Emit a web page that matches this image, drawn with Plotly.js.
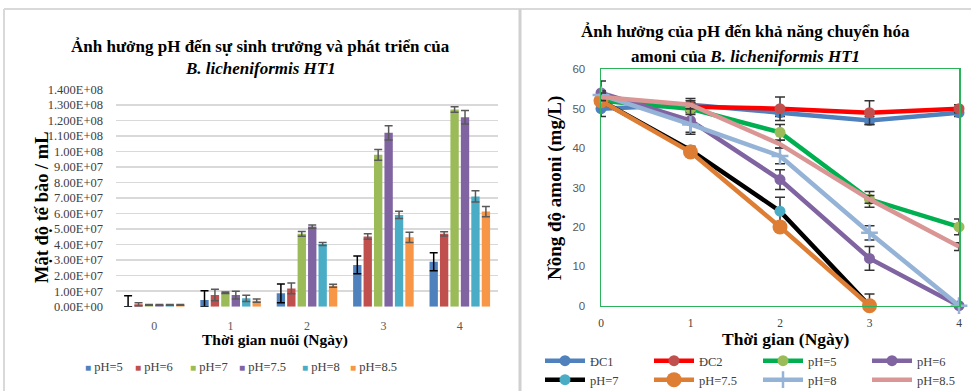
<!DOCTYPE html>
<html>
<head>
<meta charset="utf-8">
<script src="https://cdn.plot.ly/plotly-3.0.1.min.js"></script>
<style>html,body{margin:0;padding:0;background:#fff;}#chart{width:971px;height:391px;}</style>
</head>
<body>
<div id="chart"></div>
<script>
// ---------- Left chart data (cell density) ----------
const days = ['0', '1', '2', '3', '4'];
const barNames = ['pH=5', 'pH=6', 'pH=7', 'pH=7.5', 'pH=8', 'pH=8.5'];
const barColors = ['#4f81bd', '#c0504d', '#9bbb59', '#8064a2', '#4bacc6', '#f79646'];
const pH5 = [0.05e7, 0.43e7, 0.86e7, 2.69e7, 2.90e7];
const pH6 = [0.15e7, 0.75e7, 1.18e7, 4.52e7, 4.69e7];
const pH7 = [0.12e7, 0.90e7, 4.69e7, 9.78e7, 12.70e7];
const pH75 = [0.12e7, 0.75e7, 5.16e7, 11.20e7, 12.20e7];
const pH8 = [0.12e7, 0.54e7, 4.04e7, 5.91e7, 7.10e7];
const pH85 = [0.12e7, 0.39e7, 1.35e7, 4.47e7, 6.13e7];
const errPH5Plus = [0.65e7, 0.60e7, 0.60e7, 0.57e7, 0.58e7];
const errPH5Minus = [0.05e7, 0.43e7, 0.60e7, 0.57e7, 0.58e7];
const errPH6 = [0.10e7, 0.37e7, 0.35e7, 0.17e7, 0.14e7];
const errPH7 = [0.02e7, 0.05e7, 0.15e7, 0.35e7, 0.18e7];
const errPH75 = [0.02e7, 0.25e7, 0.10e7, 0.46e7, 0.43e7];
const errPH8 = [0.02e7, 0.20e7, 0.10e7, 0.23e7, 0.36e7];
const errPH85 = [0.02e7, 0.10e7, 0.10e7, 0.33e7, 0.33e7];
const leftTickVals = [0, 1e7, 2e7, 3e7, 4e7, 5e7, 6e7, 7e7, 8e7, 9e7, 10e7, 11e7, 12e7, 13e7, 14e7];
const leftTickText = ['0.00E+00', '1.00E+07', '2.00E+07', '3.00E+07', '4.00E+07', '5.00E+07', '6.00E+07',
  '7.00E+07', '8.00E+07', '9.00E+07', '1.00E+08', '1.100E+08', '1.200E+08', '1.300E+08', '1.400E+08'];

// ---------- Right chart data (ammonium) ----------
const tDays = [0, 1, 2, 3, 4];
const lineNames = ['ĐC1', 'ĐC2', 'pH=5', 'pH=6', 'pH=7', 'pH=7.5', 'pH=8', 'pH=8.5'];
const DC1 = [50, 51, 49, 47, 49];
const DC2 = [52, 50.5, 50, 49, 50];
const L5 = [52, 50, 44, 27, 20];
const L6 = [54, 47, 32, 12, 0];
const L7 = [52, 39.5, 24, 0, null];
const L75 = [52, 39, 20, 0, null];
const L8 = [53.5, 46, 38, 18.5, 0];
const L85 = [53, 51, 41, 27, 15];
const eDC1 = [2, 1.6, 1, 1, 1];
const eDC2 = [1, 1, 3, 3, 1];
const e5 = [1, 1, 2, 2, 2];
const e6 = [3, 3, 2.5, 3, 0];
const e7 = [1, 1, 3.5, 0, 0];
const e75 = [1, 1, 1, 3, 0];
const e8 = [1, 2.5, 2, 1.8, 0];
const e85 = [1, 1, 1, 1, 1];

const W = 971, H = 391;
const px = v => v / W;
const py = v => 1 - v / H;
const serif = 'Liberation Serif, Times New Roman, serif';
const sans = 'Liberation Sans, Arial, sans-serif';

const barVals = [pH5, pH6, pH7, pH75, pH8, pH85];
const barErr = [null, errPH6, errPH7, errPH75, errPH8, errPH85];
const traces = [];
barVals.forEach((vals, i) => {
  const err = i === 0
    ? { type: 'data', symmetric: false, array: errPH5Plus, arrayminus: errPH5Minus, color: '#000000', thickness: 1.5, width: 4 }
    : { type: 'data', array: barErr[i], color: '#595959', thickness: 1.5, width: 4 };
  traces.push({
    type: 'bar', x: days, y: vals, name: barNames[i], xaxis: 'x', yaxis: 'y',
    marker: { color: barColors[i] }, error_y: err, showlegend: false
  });
});

const lineVals = [DC1, DC2, L5, L6, L7, L75, L8, L85];
const lineErr = [eDC1, eDC2, e5, e6, e7, e75, e8, e85];
const lineColors = ['#4f81bd', '#ff0000', '#00b050', '#8064a2', '#000000', '#dd7e34', '#95b3d7', '#d99694'];
const markerColors = ['#4f81bd', '#c0504d', '#9bbb59', '#8064a2', '#4bacc6', '#dd7e34', '#95b3d7', '#d99694'];
const markerSymbols = ['circle', 'circle', 'circle', 'circle', 'circle', 'circle', 'cross-thin', 'circle'];
const markerSizes = [11, 11, 11, 11, 11, 15, 12, 0];
lineVals.forEach((vals, i) => {
  traces.push({
    type: 'scatter', mode: markerSizes[i] > 0 ? 'lines+markers' : 'lines',
    x: tDays, y: vals, name: lineNames[i], xaxis: 'x2', yaxis: 'y2', cliponaxis: false,
    line: { color: lineColors[i], width: 4.5 },
    marker: { color: markerColors[i], size: markerSizes[i], symbol: markerSymbols[i],
      line: { color: markerColors[i], width: markerSymbols[i] === 'cross-thin' ? 2.5 : 0 } },
    error_y: { type: 'data', array: lineErr[i], color: '#333333', thickness: 1.5, width: 5 },
    legend: i < 4 ? 'legend2' : 'legend3'
  });
});

// legend of the bar chart as text entries (layout positions)
const barLegendX = [83, 133, 188, 237, 300, 348];
const barLegend = barNames.map((n, i) => ({
  text: '<span style="color:' + barColors[i] + ';font-size:10px">■</span> ' + n,
  x: px(barLegendX[i]), y: py(367), xref: 'paper', yref: 'paper', xanchor: 'left', yanchor: 'middle',
  showarrow: false, font: { family: serif, size: 12.5, color: '#404040' }
}));

function ann(text, x, y, size, angle) {
  return { text: text, x: px(x), y: py(y), xref: 'paper', yref: 'paper', xanchor: 'center', yanchor: 'middle',
    showarrow: false, textangle: angle || 0, font: { family: serif, size: size, color: '#000' } };
}
function lineLegend(yc) {
  return {
    orientation: 'h', x: px(540), y: py(yc), xanchor: 'left', yanchor: 'middle',
    font: { family: serif, size: 12.5, color: '#404040' }, bgcolor: 'rgba(0,0,0,0)',
    entrywidth: 54, entrywidthmode: 'pixels', itemwidth: 40,
    traceorder: 'normal', tracegroupgap: 0
  };
}

const layout = {
  width: W, height: H,
  margin: { l: 0, r: 0, t: 0, b: 0, autoexpand: false },
  paper_bgcolor: '#ffffff', plot_bgcolor: 'rgba(0,0,0,0)',
  showlegend: true,
  barmode: 'group', bargap: 0.18, bargroupgap: 0.2,
  xaxis: {
    domain: [px(116), px(498)], anchor: 'y', type: 'category',
    showgrid: false, zeroline: false, showline: false, ticks: '',
    ticklabelstandoff: 10,
    tickfont: { family: serif, size: 12, color: '#595959' }
  },
  yaxis: {
    domain: [py(306.7), py(89.3)], anchor: 'x', range: [0, 14e7],
    tickvals: leftTickVals, ticktext: leftTickText,
    showgrid: true, gridcolor: '#d9d9d9', gridwidth: 1.5, zeroline: false, showline: false, ticks: '',
    ticklabelstandoff: 12,
    tickfont: { family: serif, size: 12.5, color: '#404040' }
  },
  xaxis2: {
    domain: [px(601), px(959)], anchor: 'y2', range: [0, 4],
    tickvals: tDays, showgrid: false, zeroline: false,
    showline: true, mirror: true, linecolor: '#2bb35a', linewidth: 1.5, ticks: '',
    ticklabelstandoff: 6,
    tickfont: { family: serif, size: 11.5, color: '#404040' }
  },
  yaxis2: {
    domain: [py(305.7), py(69.3)], anchor: 'x2', range: [0, 60], dtick: 10,
    showgrid: false, zeroline: false,
    showline: true, mirror: true, linecolor: '#2bb35a', linewidth: 1.5, ticks: '',
    ticklabelstandoff: 12,
    tickfont: { family: sans, size: 11.5, color: '#595959' }
  },
  legend2: lineLegend(361),
  legend3: lineLegend(380),
  annotations: [
    ann('<b>Ảnh hưởng pH đến sự sinh trưởng và phát triển của</b>', 260, 47, 17),
    ann('<b><i>B. licheniformis HT1</i></b>', 260, 68, 17),
    ann('<b>Mật độ tế bào / mL</b>', 42, 207, 18.5, -90),
    ann('<b>Thời gian nuôi (Ngày)</b>', 275, 340, 15.5),
    ann('<b>Ảnh hưởng của pH đến khả năng chuyển hóa</b>', 745, 32, 17),
    ann('<b>amoni của <i>B. licheniformis HT1</i></b>', 745, 57, 17),
    ann('<b>Nồng độ amoni (mg/L)</b>', 555, 188, 19, -90),
    ann('<b>Thời gian (Ngày)</b>', 786, 339, 17.5)
  ].concat(barLegend),
  shapes: [
    { type: 'line', xref: 'paper', yref: 'paper', x0: px(4), x1: 1, y0: py(9), y1: py(9), line: { color: '#d9d9d9', width: 2 } },
    { type: 'line', xref: 'paper', yref: 'paper', x0: px(4), x1: px(4), y0: py(9), y1: 0, line: { color: '#d9d9d9', width: 2 } },
    { type: 'line', xref: 'paper', yref: 'paper', x0: px(520), x1: px(520), y0: py(9), y1: 0, line: { color: '#d0d0d0', width: 3 } }
  ]
};

Plotly.newPlot('chart', traces, layout, { displayModeBar: false, staticPlot: true });
</script>
</body>
</html>
